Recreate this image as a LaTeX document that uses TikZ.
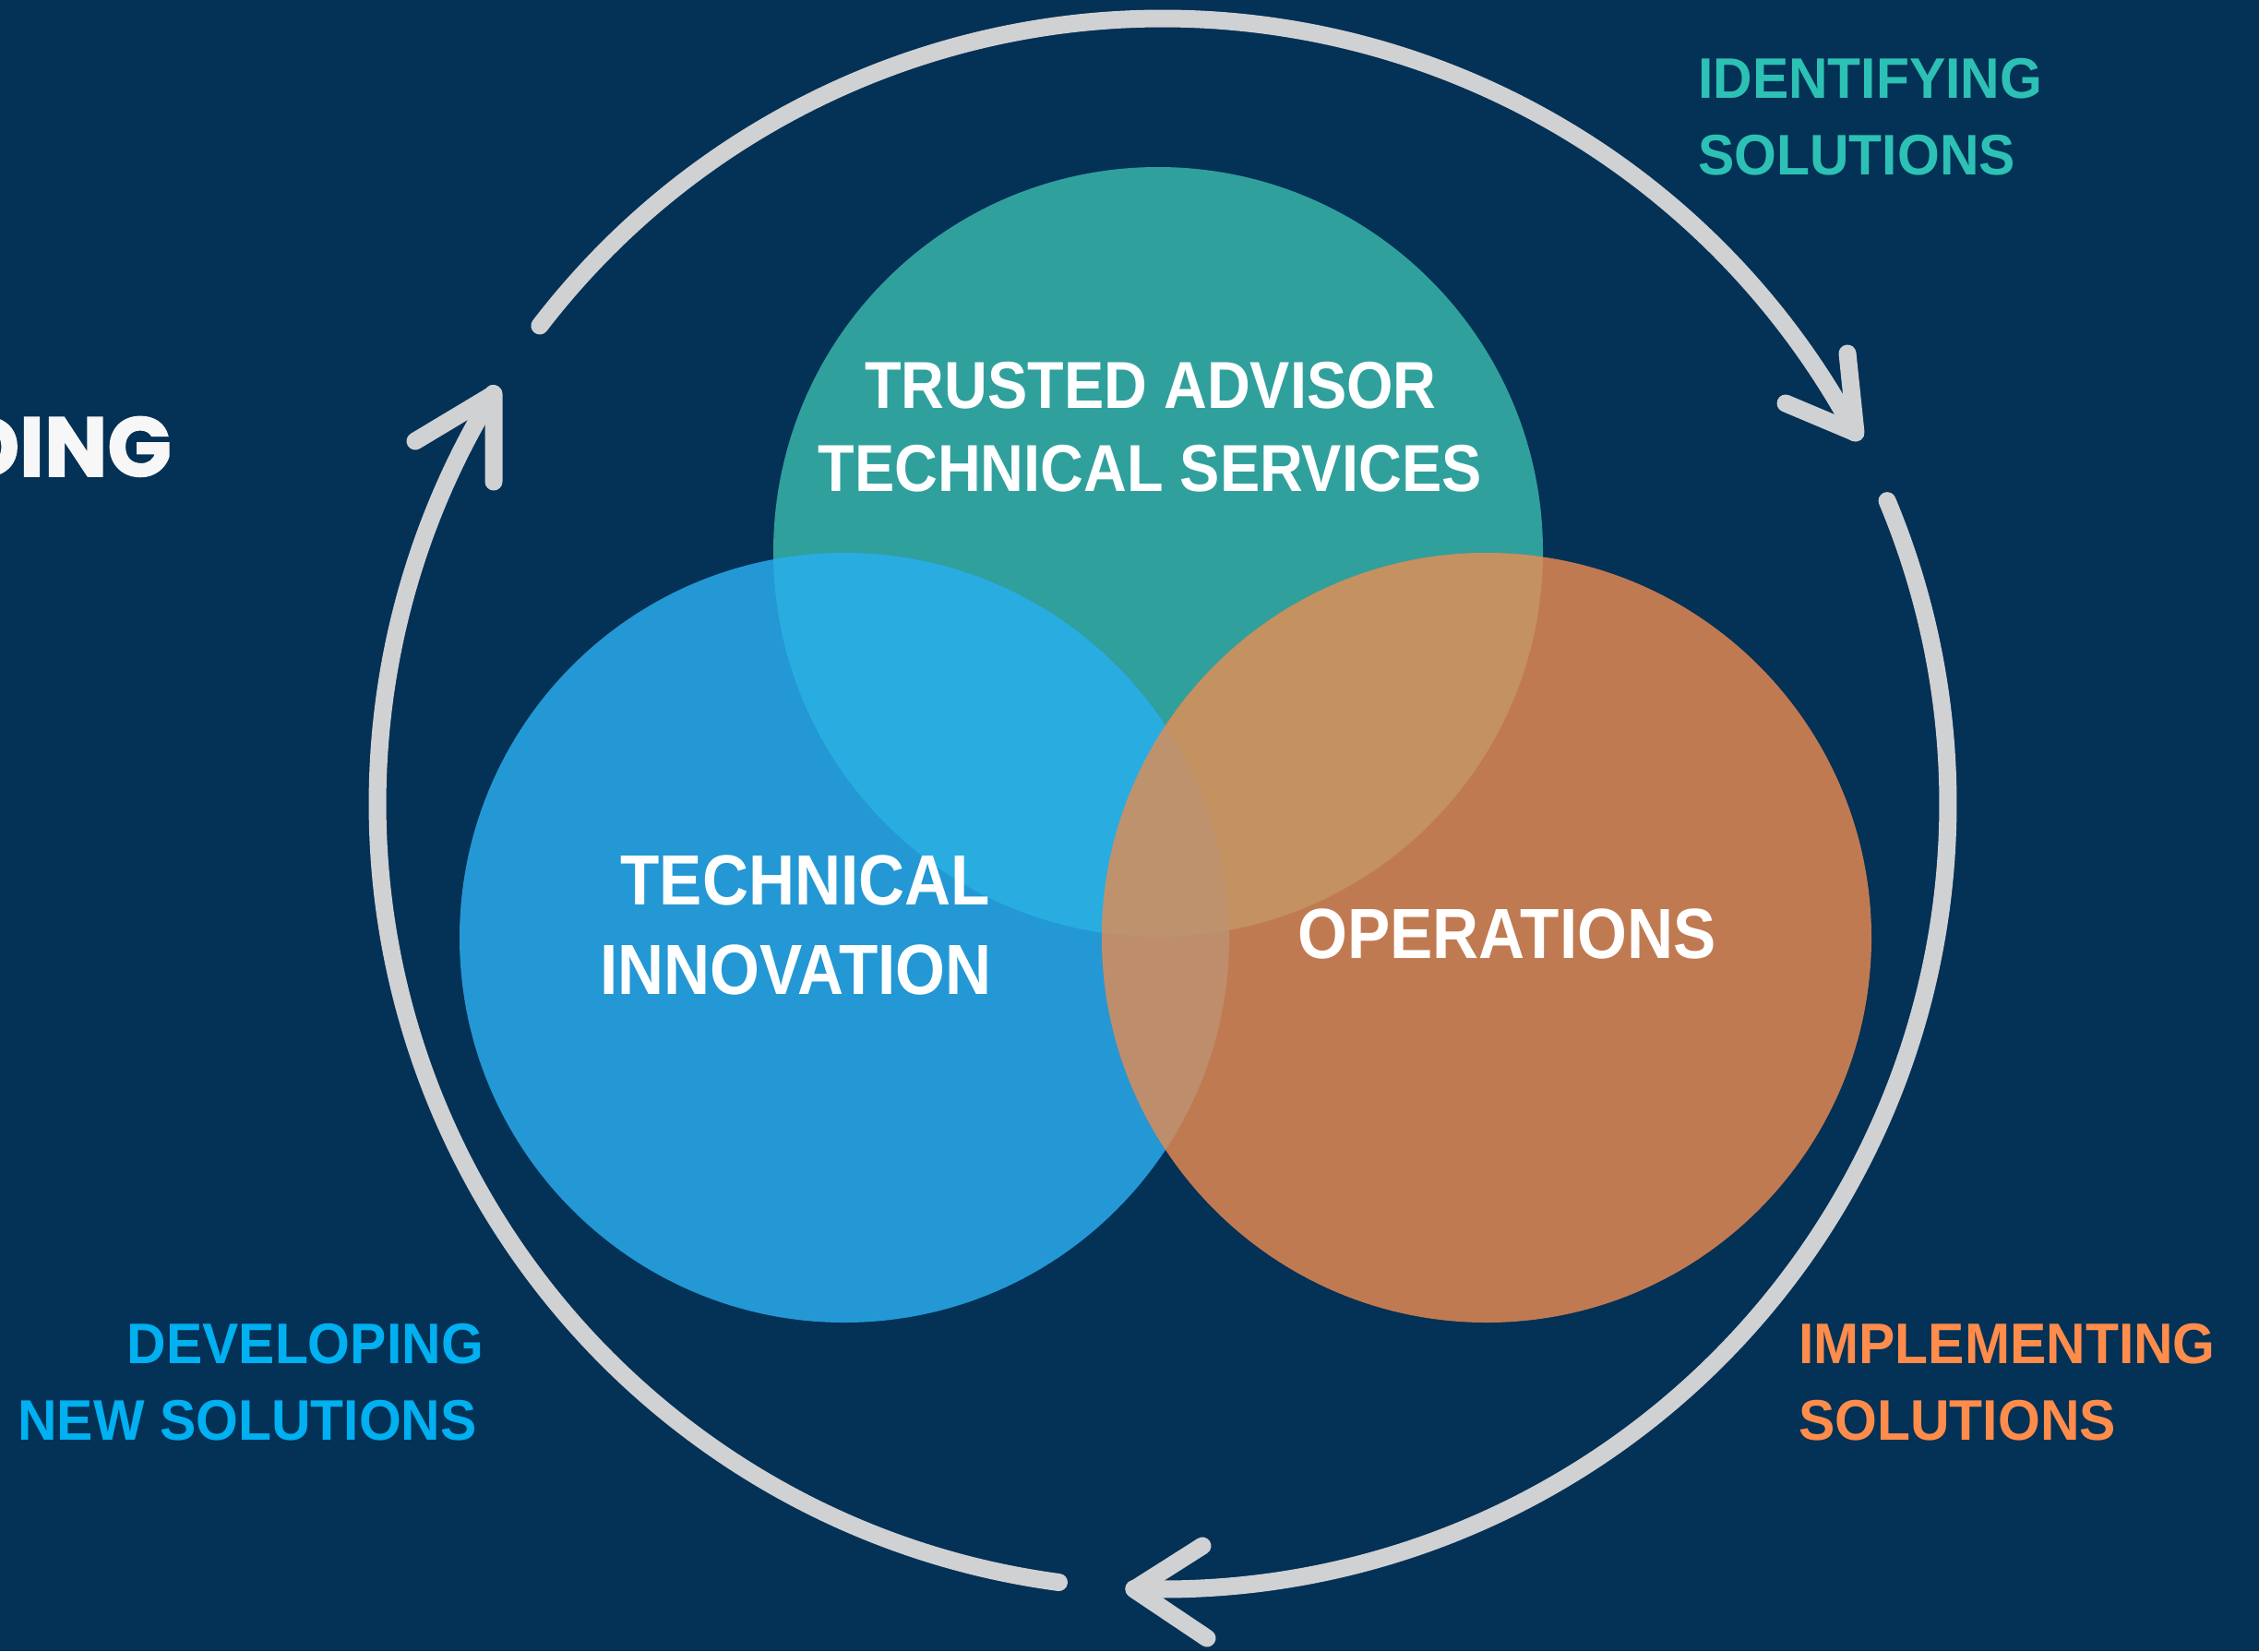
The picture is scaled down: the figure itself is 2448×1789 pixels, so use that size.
\documentclass[tikz,border=0pt]{standalone}
\usepackage{fontspec}
\setmainfont{Liberation Sans}
\newfontfamily\condfont[FakeStretch=0.9]{Liberation Sans}
\newfontfamily\sidefont[FakeStretch=0.95]{Liberation Sans}
\newfontfamily\dingfont{Poppins}[BoldFeatures={FakeBold=1.8}]
\definecolor{bg}{HTML}{043156}
\definecolor{tealc}{HTML}{30A09D}
\definecolor{bluec}{HTML}{2398D4}
\definecolor{orangec}{HTML}{C07A52}
\definecolor{blueteal}{HTML}{29ADE0}
\definecolor{tealorange}{HTML}{C49160}
\definecolor{blueorange}{HTML}{BE8E6C}
\definecolor{triple}{HTML}{BF926E}
\definecolor{ringgray}{HTML}{D0D1D3}
\definecolor{tealtxt}{HTML}{2CC1B4}
\definecolor{bluetxt}{HTML}{00B0F0}
\definecolor{orangetxt}{HTML}{FF8C4A}
\definecolor{dingwhite}{HTML}{F7F7F7}
\begin{document}
\begin{tikzpicture}[x=1pt,y=-1pt,
  ring/.style={draw=ringgray, line width=19pt, line cap=round, line join=round},
  toplab/.style={text=white, font=\condfont\bfseries\fontsize{72}{86}\selectfont, inner sep=0pt},
  lab/.style={text=white, font=\condfont\bfseries\fontsize{77}{92}\selectfont, inner sep=0pt},
  side/.style={font=\sidefont\bfseries\fontsize{62}{83}\selectfont, inner sep=0pt},
]
\useasboundingbox (0,0) rectangle (2448,1789);
\clip (0,0) rectangle (2448,1789);
\fill[bg] (0,0) rectangle (2448,1789);

% circles
\fill[tealc] (1255,598) circle[radius=417];
\fill[bluec] (915,1016) circle[radius=417];
\fill[orangec] (1611,1016) circle[radius=417];
\begin{scope}
  \clip (915,1016) circle[radius=417];
  \fill[blueorange] (1611,1016) circle[radius=417];
\end{scope}
\begin{scope}
  \clip (1255,598) circle[radius=417];
  \fill[blueteal] (915,1016) circle[radius=417];
  \fill[tealorange] (1611,1016) circle[radius=417];
  \clip (915,1016) circle[radius=417];
  \fill[triple] (1611,1016) circle[radius=417];
\end{scope}

% circle labels
\node[toplab, anchor=base] (ta) at (1247,442) {TRUSTED ADVISOR};
\node[toplab, anchor=base] (ts) at (1246,532) {TECHNICAL SERVICES};
\node[lab, anchor=base east] (ti1) at (1073,980) {TECHNICAL};
\node[lab, anchor=base east] (ti2) at (1075,1077) {INNOVATION};
\node[lab, anchor=base] (op) at (1633,1038) {OPERATIONS};

% side labels
\node[side, text=tealtxt, anchor=base west] (id1) at (1840,106) {IDENTIFYING};
\node[side, text=tealtxt, anchor=base west] (id2) at (1840,189) {SOLUTIONS};
\node[side, text=bluetxt, anchor=base east] (dv1) at (524,1477) {DEVELOPING};
\node[side, text=bluetxt, anchor=base east] (dv2) at (517,1560) {NEW SOLUTIONS};
\node[side, text=orangetxt, anchor=base west] (im1) at (1949,1477) {IMPLEMENTING};
\node[side, text=orangetxt, anchor=base west] (im2) at (1949,1560) {SOLUTIONS};

% cut-off heading
\node[font=\dingfont\bfseries\fontsize{91}{100}\selectfont, text=dingwhite, anchor=base east, inner sep=0pt] (ding) at (186,516) {DING};

% cycle arrows
\coordinate (C) at (1260,871);
\coordinate (t1) at (2011,469);
\coordinate (b1a) at (2002,383);
\coordinate (b1b) at (1935,437);
\coordinate (t2) at (1229,1722);
\coordinate (b2a) at (1303,1675);
\coordinate (b2b) at (1308,1775);
\coordinate (t3) at (535,427);
\coordinate (b3a) at (450,478);
\coordinate (b3b) at (535,522);

\draw[ring] (C) ++(-142.5:851) arc[start angle=-142.5, end angle=-28.2, radius=851];
\draw[ring] (b1a) -- (t1) -- (b1b);
\draw[ring] (C) ++(-22.7:851) arc[start angle=-22.7, end angle=92.1, radius=851];
\draw[ring] (b2a) -- (t2) -- (b2b);
\draw[ring] (C) ++(97.6:851) arc[start angle=97.6, end angle=211.5, radius=851];
\draw[ring] (b3a) -- (t3) -- (b3b);
\end{tikzpicture}
\end{document}
